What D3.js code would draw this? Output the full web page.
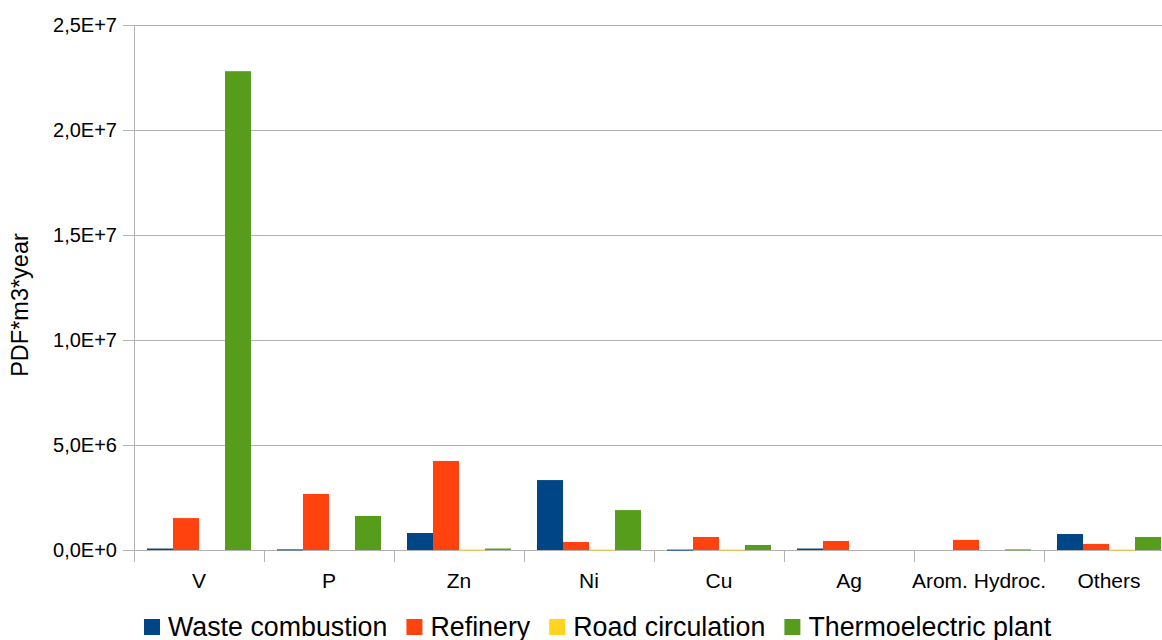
<!DOCTYPE html>
<html><head><meta charset="utf-8">
<script src="https://cdn.jsdelivr.net/npm/d3@7"></script>
<style>
html,body{margin:0;padding:0;background:#fff;overflow:hidden;}
text{font-family:"Liberation Sans",Arial,sans-serif;fill:#000;}
</style></head><body>
<svg id="c" width="1162" height="640"></svg>
<script>
const categories = ["V","P","Zn","Ni","Cu","Ag","Arom. Hydroc.","Others"];
const seriesNames = ["Waste combustion","Refinery","Road circulation","Thermoelectric plant"];
const colors = ["#004586","#ff420e","#ffd320","#579d1c"];
const wasteCombustion   = [0.07e6, 0.03e6, 0.81e6, 3.33e6, 0.02e6, 0.07e6, 0,      0.76e6];
const refinery          = [1.52e6, 2.67e6, 4.24e6, 0.38e6, 0.62e6, 0.43e6, 0.48e6, 0.29e6];
const roadCirculation   = [0,      0,      0.02e6, 0.02e6, 0.02e6, 0,      0,      0.02e6];
const thermoelectric    = [22.8e6, 1.62e6, 0.07e6, 1.9e6,  0.24e6, 0,      0.03e6, 0.62e6];
const yTicks = [0, 5e6, 1e7, 1.5e7, 2e7, 2.5e7];
const yTickLabels = ["0,0E+0","5,0E+6","1,0E+7","1,5E+7","2,0E+7","2,5E+7"];
const yTitle = "PDF*m3*year";

(function(){
const series = [wasteCombustion, refinery, roadCirculation, thermoelectric];
const svg = d3.select("#c");
const pL = 134, pR = 1174, pT = 25, pB = 550;
const x = d3.scaleBand().domain(categories).range([pL, pR]).paddingInner(0).paddingOuter(0);
const xs = d3.scaleBand().domain(d3.range(4)).range([0, x.bandwidth()]).paddingOuter(0.5).paddingInner(0);
const y = d3.scaleLinear().domain([0, 2.5e7]).range([pB, pT]);

svg.append("g").selectAll("line").data(yTicks).join("line")
  .attr("x1", pL - 11).attr("x2", pR).attr("y1", d => y(d)).attr("y2", d => y(d))
  .attr("stroke", "#b3b3b3").attr("stroke-width", 1).attr("shape-rendering","crispEdges");
svg.append("line").attr("x1", pL).attr("x2", pL).attr("y1", pT).attr("y2", pB + 12)
  .attr("stroke", "#b3b3b3").attr("shape-rendering","crispEdges");
svg.append("g").selectAll("line").data(categories).join("line")
  .attr("x1", d => x(d) + x.step()).attr("x2", d => x(d) + x.step())
  .attr("y1", pB).attr("y2", pB + 12)
  .attr("stroke", "#b3b3b3").attr("shape-rendering","crispEdges");

categories.forEach((c, ci) => {
  series.forEach((s, si) => {
    const v = s[ci];
    if (v <= 0) return;
    svg.append("rect")
      .attr("x", x(c) + xs(si)).attr("width", xs.bandwidth())
      .attr("y", y(v)).attr("height", Math.max(1, y(0) - y(v)))
      .attr("fill", colors[si]);
  });
});

svg.append("g").selectAll("text").data(yTicks).join("text")
  .attr("x", 117).attr("y", d => y(d)).attr("dy", "0.35em")
  .attr("text-anchor", "end").attr("font-size", 20).text((d,i) => yTickLabels[i]);
svg.append("g").selectAll("text").data(categories).join("text")
  .attr("x", d => x(d) + x.bandwidth()/2).attr("y", 588)
  .attr("text-anchor", "middle").attr("font-size", 21).text(d => d);
svg.append("text").attr("transform", "translate(28,305) rotate(-90)")
  .attr("text-anchor", "middle").attr("font-size", 23.5).text(yTitle);

const lg = svg.append("g");
let lx = 144;
seriesNames.forEach((n, i) => {
  lg.append("rect").attr("x", lx).attr("y", 619).attr("width", 16).attr("height", 16).attr("fill", colors[i]);
  const t = lg.append("text").attr("x", lx + 24).attr("y", 636).attr("font-size", 26.8).text(n);
  lx += 24 + t.node().getComputedTextLength() + 19;
});
})();
</script>
</body></html>
